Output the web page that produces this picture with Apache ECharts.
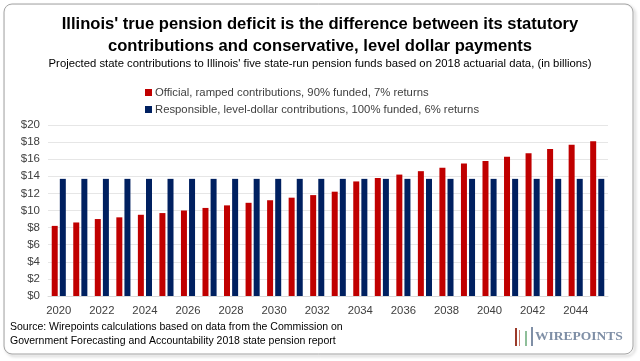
<!DOCTYPE html>
<html><head><meta charset="utf-8">
<script src="https://cdn.jsdelivr.net/npm/echarts@6/dist/echarts.min.js"></script>
<style>html,body{margin:0;padding:0;background:#fff}#c{width:640px;height:361px}</style>
</head><body><div id="c"></div>
<script>
const years = ['2020','2021','2022','2023','2024','2025','2026','2027','2028','2029','2030','2031','2032','2033','2034','2035','2036','2037','2038','2039','2040','2041','2042','2043','2044','2045'];
const official = [8.2,8.6,9.0,9.2,9.5,9.7,10.0,10.3,10.6,10.9,11.2,11.5,11.8,12.2,13.4,13.8,14.2,14.6,15.0,15.5,15.8,16.3,16.7,17.2,17.7,18.1];
const responsible = [13.7,13.7,13.7,13.7,13.7,13.7,13.7,13.7,13.7,13.7,13.7,13.7,13.7,13.7,13.7,13.7,13.7,13.7,13.7,13.7,13.7,13.7,13.7,13.7,13.7,13.7];
const seriesNames = ['Official, ramped contributions, 90% funded, 7% returns','Responsible, level-dollar contributions, 100% funded, 6% returns'];
const titleText = "Illinois' true pension deficit is the difference between its statutory\ncontributions and conservative, level dollar payments";
const subtitleText = "Projected state contributions to Illinois' five state-run pension funds based on 2018 actuarial data, (in billions)";
const sourceText = "Source: Wirepoints calculations based on data from the Commission on\nGovernment Forecasting and Accountability 2018 state pension report";

const chart = echarts.init(document.getElementById('c'), null, {renderer:'canvas'});
const font = 'Liberation Sans, Arial, sans-serif';
chart.setOption({
  backgroundColor:'#fff',
  animation:false,
  textStyle:{fontFamily:font},
  title:[{
    text:titleText, left:'center', top:8,
    textStyle:{fontSize:16.6, fontWeight:'bold', color:'#000', lineHeight:22, fontFamily:font},
    subtext:subtitleText, itemGap:1,
    subtextStyle:{fontSize:11.3, color:'#000', fontFamily:font}
  }],
  legend:{
    orient:'vertical', left:140, top:82, itemGap:6, itemWidth:7, itemHeight:7, icon:'rect',
    textStyle:{fontSize:11.3, color:'#404040', fontFamily:font, padding:[0,0,0,-2]},
    data:seriesNames
  },
  grid:{left:48, right:32, top:125, bottom:65},
  xAxis:{
    type:'category', data:years,
    axisTick:{show:false},
    axisLine:{lineStyle:{color:'#d9d9d9'}},
    axisLabel:{interval:1, color:'#404040', fontSize:11.3, margin:9, fontFamily:font}
  },
  yAxis:{
    type:'value', min:0, max:20, interval:2,
    axisLabel:{formatter:v=>'$'+v, color:'#404040', fontSize:11.5, margin:8, fontFamily:font},
    splitLine:{lineStyle:{color:'#e6e6e6'}},
    axisLine:{show:false}, axisTick:{show:false}
  },
  series:[
    {name:seriesNames[0], type:'bar', data:official, barWidth:6, barGap:'35%', itemStyle:{color:'#c00000'}},
    {name:seriesNames[1], type:'bar', data:responsible, barWidth:6, itemStyle:{color:'#002060'}}
  ],
  graphic:[
    {type:'rect', shape:{x:4,y:4,width:629,height:350,r:8}, style:{fill:'none', stroke:'#a6a6a6', lineWidth:1, shadowColor:'rgba(0,0,0,0.35)', shadowBlur:3, shadowOffsetX:2, shadowOffsetY:2}, z:-1},
    {type:'rect', shape:{x:5,y:5,width:627,height:348,r:7}, style:{fill:'#fff'}, z:-1},
    {type:'text', left:10, top:320, style:{text:sourceText, fontSize:10.5, lineHeight:14, fill:'#000', fontFamily:font}},
    {type:'rect', shape:{x:515,y:328,width:2,height:18}, style:{fill:'#9b3a2a'}},
    {type:'rect', shape:{x:519,y:330,width:1,height:16}, style:{fill:'#c87a6a'}},
    {type:'rect', shape:{x:525,y:331,width:2,height:15}, style:{fill:'#8fbf9a'}},
    {type:'rect', shape:{x:531,y:327,width:2,height:19}, style:{fill:'#7f8fa6'}},
    {type:'text', left:535, top:330, style:{text:'WIREPOINTS', fontSize:13.5, fontWeight:'bold', fill:'#7f8fa6', fontFamily:'Liberation Serif, DejaVu Serif, serif'}}
  ]
});
</script></body></html>
